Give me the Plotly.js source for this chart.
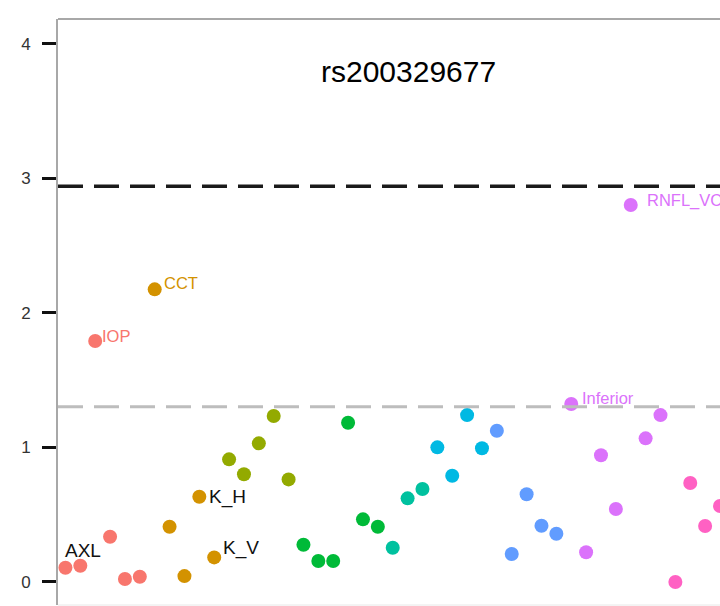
<!DOCTYPE html>
<html>
<head>
<meta charset="utf-8">
<script src="https://cdn.plot.ly/plotly-3.0.1.min.js"></script>
<style>html,body{margin:0;padding:0;background:#fff;overflow:hidden}#chart{width:720px;height:606px}</style>
</head>
<body>
<div id="chart"></div>
<script>
// -log10(p) per trait, in plotted order
var yValues = [
  0.104, 0.119, 1.790, 0.335, 0.020, 0.037,
  2.174, 0.409, 0.042, 0.632, 0.181,
  0.910, 0.799, 1.029, 1.232, 0.761,
  0.275, 0.154, 0.154, 1.182, 0.464, 0.409,
  0.253, 0.620, 0.689,
  0.999, 0.788, 1.239, 0.992,
  1.123, 0.206, 0.650, 0.416, 0.357,
  1.321, 0.219, 0.940, 0.541, 2.801, 1.066, 1.239,
  -0.002, 0.734, 0.414, 0.563
];
var groupOf = [
  'g1','g1','g1','g1','g1','g1',
  'g2','g2','g2','g2','g2',
  'g3','g3','g3','g3','g3',
  'g4','g4','g4','g4','g4','g4',
  'g5','g5','g5',
  'g6','g6','g6','g6',
  'g7','g7','g7','g7','g7',
  'g8','g8','g8','g8','g8','g8','g8',
  'g9','g9','g9','g9'
];
var pointLabels = [
  'AXL','','IOP','','','',
  'CCT','','','K_H','K_V',
  '','','','','',
  '','','','','','',
  '','','',
  '','','','',
  '','','','','',
  'Inferior','','','','RNFL_VCD','','',
  '','','',''
];
var groupNames = ['g1','g2','g3','g4','g5','g6','g7','g8','g9'];
var groupColors = ['#F8766D','#D39200','#93AA00','#00BA38','#00C19F','#00B9E3','#619CFF','#DB72FB','#FF61C3'];
var thresholds = [2.94, 1.301];
var titleText = 'rs200329677';

var traces = groupNames.map(function(g, gi){
  var xs = [], ys = [];
  groupOf.forEach(function(gg, i){ if (gg === g) { xs.push(i); ys.push(yValues[i]); } });
  return {type:'scatter', mode:'markers', x:xs, y:ys, cliponaxis:false,
    marker:{size:14, color:groupColors[gi], line:{width:0}}, hoverinfo:'skip', showlegend:false};
});

// label styling (black for some, group colour for others)
var labelStyle = {
  'AXL':      {black:true,  dx:-2, dy:17},
  'IOP':      {black:false, dx:5,  dy:5},
  'CCT':      {black:false, dx:7,  dy:6},
  'K_H':      {black:true,  dx:8,  dy:0},
  'K_V':      {black:true,  dx:7,  dy:9},
  'Inferior': {black:false, dx:9,  dy:6},
  'RNFL_VCD': {black:false, dx:14, dy:5}
};
var annotations = [];
pointLabels.forEach(function(t, i){
  if (!t) return;
  var st = labelStyle[t];
  var col = st.black ? '#111111' : groupColors[groupNames.indexOf(groupOf[i])];
  annotations.push({x:i, y:yValues[i], xref:'x', yref:'y', text:t, showarrow:false,
    xanchor:'left', yanchor:'middle', xshift:st.dx, yshift:st.dy,
    font:{family:'Liberation Sans, Arial, sans-serif', size: st.black ? 19 : 16.5, color:col}});
});
annotations.push({xref:'paper', yref:'paper', x:0.530, y:0.910, text:titleText, showarrow:false,
  xanchor:'center', yanchor:'middle', font:{family:'Liberation Sans, Arial, sans-serif', size:30, color:'#000'}});

var shapes = [
  {type:'line', xref:'paper', yref:'y', x0:0, x1:1, y0:thresholds[0], y1:thresholds[0],
   line:{color:'#1a1a1a', width:3.5, dash:'25px,11px'}},
  {type:'line', xref:'paper', yref:'y', x0:0, x1:1, y0:thresholds[1], y1:thresholds[1],
   line:{color:'#bdbdbd', width:3, dash:'25px,11px'}},
  {type:'line', xref:'paper', yref:'paper', x0:0, x1:1, y0:1, y1:1, line:{color:'#a8a8a8', width:2}},
  {type:'line', xref:'paper', yref:'paper', x0:0, x1:1, y0:0, y1:0, line:{color:'#e8e8e8', width:1}}
];

var layout = {
  width:720, height:606,
  margin:{l:58, r:0, t:19, b:1, pad:0},
  paper_bgcolor:'#fff', plot_bgcolor:'#fff',
  showlegend:false,
  xaxis:{range:[-0.5, 44.0], showgrid:false, zeroline:false, showticklabels:false, ticks:'', showline:false},
  yaxis:{range:[-0.173, 4.184], tickvals:[0,1,2,3,4], ticktext:['0','1','2','3','4'],
    ticks:'outside', ticklen:14, tickwidth:3, tickcolor:'#111', showgrid:false, zeroline:false,
    showline:true, linecolor:'#a8a8a8', linewidth:2, ticklabelstandoff:8,
    tickfont:{family:'Liberation Sans, Arial, sans-serif', size:17, color:'#333'}},
  shapes:shapes,
  annotations:annotations
};
Plotly.newPlot('chart', traces, layout, {displayModeBar:false, staticPlot:true});
</script>
</body>
</html>
